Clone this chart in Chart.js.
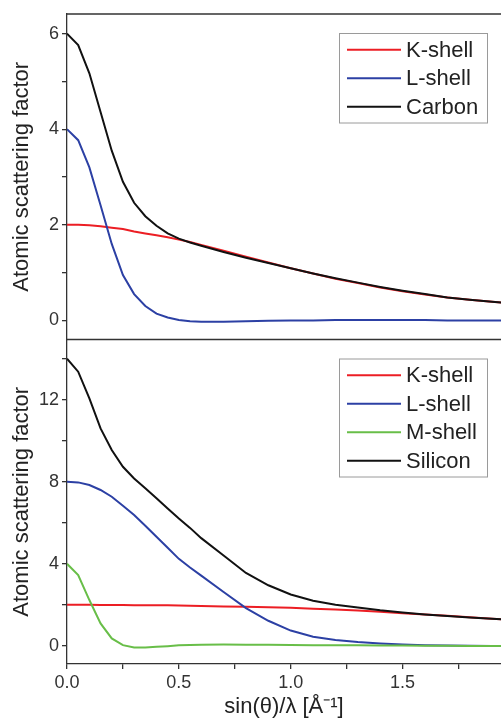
<!DOCTYPE html>
<html>
<head>
<meta charset="utf-8">
<script src="https://cdn.jsdelivr.net/npm/chart.js@4.4.1/dist/chart.umd.min.js"></script>
<style>
    html, body { margin: 0; padding: 0; background: #fff; }
    #wrap { position: relative; width: 501px; height: 721px; overflow: hidden; }
    #top-panel { position: absolute; left: 0; top: 0; }
    #bottom-panel { position: absolute; left: 0; top: 339px; }
</style>
</head>
<body>
<div id="wrap">
    <canvas id="top-panel" width="501" height="340"></canvas>
    <canvas id="bottom-panel" width="501" height="382"></canvas>
</div>
<script>
// sin(theta)/lambda sample positions [1/A]
const sValues = [0, 0.05, 0.1, 0.15, 0.2, 0.25, 0.3, 0.35, 0.4, 0.45, 0.5, 0.55, 0.6,
    0.7, 0.8, 0.9, 1.0, 1.1, 1.2, 1.3, 1.4, 1.5, 1.6, 1.7, 1.8, 1.9, 1.95];

// Carbon (top panel)
const carbonK = [2.00, 2.00, 1.99, 1.97, 1.94, 1.91, 1.86, 1.82, 1.78, 1.74, 1.69, 1.64, 1.58,
    1.46, 1.33, 1.21, 1.09, 0.98, 0.87, 0.78, 0.69, 0.61, 0.54, 0.48, 0.43, 0.39, 0.37];
const carbonL = [4.00, 3.77, 3.20, 2.41, 1.60, 0.95, 0.55, 0.30, 0.14, 0.06, 0.01, -0.02, -0.03,
    -0.03, -0.02, -0.01, 0.00, 0.00, 0.01, 0.01, 0.01, 0.01, 0.01, 0.00, 0.00, 0.00, 0.00];
const carbonTotal = [6.00, 5.76, 5.17, 4.36, 3.55, 2.90, 2.46, 2.18, 1.98, 1.82, 1.71, 1.63, 1.56,
    1.43, 1.31, 1.20, 1.09, 0.98, 0.88, 0.79, 0.70, 0.62, 0.55, 0.48, 0.43, 0.39, 0.37];

// Silicon (bottom panel)
const siliconK = [2.00, 2.00, 2.00, 1.99, 1.99, 1.99, 1.98, 1.98, 1.97, 1.97, 1.96, 1.95, 1.94,
    1.92, 1.90, 1.88, 1.85, 1.81, 1.77, 1.72, 1.66, 1.59, 1.53, 1.46, 1.39, 1.32, 1.29];
const siliconL = [8.00, 7.97, 7.84, 7.60, 7.27, 6.83, 6.38, 5.85, 5.32, 4.78, 4.24, 3.82, 3.42,
    2.62, 1.84, 1.22, 0.74, 0.44, 0.28, 0.18, 0.11, 0.06, 0.03, 0.01, 0.00, -0.01, -0.01];
const siliconM = [4.00, 3.45, 2.23, 1.09, 0.36, 0.03, -0.08, -0.08, -0.05, -0.02, 0.02, 0.04, 0.05,
    0.06, 0.05, 0.05, 0.04, 0.03, 0.02, 0.02, 0.01, 0.01, 0.00, 0.00, -0.01, -0.01, -0.01];
const siliconTotal = [14.00, 13.37, 12.07, 10.60, 9.55, 8.73, 8.16, 7.68, 7.19, 6.70, 6.21, 5.75, 5.25,
    4.40, 3.55, 2.95, 2.50, 2.20, 2.00, 1.87, 1.73, 1.62, 1.53, 1.45, 1.38, 1.32, 1.29];

// tick labels
const xTickLabels = ['0.0', '0.5', '1.0', '1.5'];
const topYTickLabels = [0, 2, 4, 6];
const bottomYTickLabels = [0, 4, 8, 12];

const RED = 'rgb(236, 30, 36)';
const BLUE = 'rgb(44, 64, 164)';
const GREEN = 'rgb(104, 190, 72)';
const BLACK = '#111111';
const AXIS = '#333333';

Chart.defaults.font.family = "'Liberation Sans', Arial, sans-serif";
Chart.defaults.color = AXIS;

function points(ys) {
    return sValues.map((s, i) => ({ x: s, y: ys[i] }));
}

function series(label, ys, color, order) {
    return {
        label: label,
        data: points(ys),
        borderColor: color,
        backgroundColor: color,
        borderWidth: 2,
        pointRadius: 0,
        tension: 0,
        fill: false,
        order: order
    };
}

// drop the label overhang padding so the plot area keeps its size
function noPadding(scale) {
    scale.paddingTop = 0;
    scale.paddingBottom = 0;
    scale.paddingLeft = 0;
    scale.paddingRight = 0;
}

// horizontal frame lines (top / bottom of the plot area)
const frameLines = {
    id: 'frameLines',
    afterDraw(chart, args, opts) {
        const { ctx, chartArea } = chart;
        ctx.save();
        ctx.strokeStyle = AXIS;
        ctx.lineWidth = 1.3;
        ctx.beginPath();
        if (opts.top) {
            ctx.moveTo(chartArea.left, chartArea.top);
            ctx.lineTo(chartArea.right, chartArea.top);
        }
        if (opts.bottom) {
            ctx.moveTo(chartArea.left, chartArea.bottom);
            ctx.lineTo(chartArea.right, chartArea.bottom);
        }
        ctx.stroke();
        ctx.restore();
    }
};

// boxed legend inside the plot, top-right corner
const boxLegend = {
    id: 'boxLegend',
    afterDraw(chart, args, opts) {
        const { ctx, chartArea } = chart;
        const sets = chart.data.datasets;
        const rowH = 28.5;
        const w = 148;
        const h = sets.length * rowH + 4;
        const left = chartArea.right - 14 - w;
        const top = chartArea.top + opts.offsetTop;
        ctx.save();
        ctx.fillStyle = '#fff';
        ctx.fillRect(left, top, w, h);
        ctx.strokeStyle = '#9a9a9a';
        ctx.lineWidth = 1;
        ctx.strokeRect(left + 0.5, top + 0.5, w, h);
        ctx.font = "22px 'Liberation Sans', Arial, sans-serif";
        ctx.textBaseline = 'middle';
        ctx.textAlign = 'left';
        sets.forEach((ds, i) => {
            const y = top + 2.5 + rowH / 2 + i * rowH;
            ctx.strokeStyle = ds.borderColor;
            ctx.lineWidth = 2;
            ctx.beginPath();
            ctx.moveTo(left + 8, y);
            ctx.lineTo(left + 62, y);
            ctx.stroke();
            ctx.fillStyle = '#222';
            ctx.fillText(ds.label, left + 67, y + 1);
        });
        ctx.restore();
    }
};

function yAxis(min, max, step, labels) {
    return {
        min: min,
        max: max,
        afterFit: (scale) => { scale.width = 67; noPadding(scale); },
        border: { color: AXIS, width: 1.3 },
        grid: { drawOnChartArea: false, drawTicks: true, tickLength: 5, color: AXIS, lineWidth: 1.3 },
        ticks: {
            stepSize: step,
            includeBounds: false,
            padding: 3,
            color: AXIS,
            font: { size: 18 },
            callback: (v) => labels.includes(v) ? String(v) : ''
        },
        title: {
            display: true,
            text: 'Atomic scattering factor',
            color: '#222',
            font: { size: 22 },
            padding: { top: 9, bottom: 0 }
        }
    };
}

const topChart = new Chart(document.getElementById('top-panel'), {
    type: 'line',
    data: {
        datasets: [
            series('K-shell', carbonK, RED, 2),
            series('L-shell', carbonL, BLUE, 1),
            series('Carbon', carbonTotal, BLACK, 0)
        ]
    },
    options: {
        responsive: false,
        animation: false,
        layout: { padding: { top: 14, right: 0, bottom: 0.5, left: 0 } },
        plugins: {
            legend: { display: false },
            tooltip: { enabled: false },
            frameLines: { top: true, bottom: true },
            boxLegend: { offsetTop: 19 }
        },
        scales: {
            x: { type: 'linear', min: 0, max: 1.94, display: false },
            y: yAxis(-0.4, 6.41, 1, topYTickLabels)
        }
    },
    plugins: [frameLines, boxLegend]
});

const bottomChart = new Chart(document.getElementById('bottom-panel'), {
    type: 'line',
    data: {
        datasets: [
            series('K-shell', siliconK, RED, 3),
            series('L-shell', siliconL, BLUE, 2),
            series('M-shell', siliconM, GREEN, 1),
            series('Silicon', siliconTotal, BLACK, 0)
        ]
    },
    options: {
        responsive: false,
        animation: false,
        layout: { padding: { top: 0.5, right: 0, bottom: 0, left: 0 } },
        plugins: {
            legend: { display: false },
            tooltip: { enabled: false },
            frameLines: { top: true, bottom: false },
            boxLegend: { offsetTop: 19 }
        },
        scales: {
            x: {
                type: 'linear',
                min: 0,
                max: 1.94,
                afterFit: (scale) => { scale.height = 57; noPadding(scale); },
                border: { color: AXIS, width: 1.3 },
                grid: { drawOnChartArea: false, drawTicks: true, tickLength: 5, color: AXIS, lineWidth: 1.3 },
                ticks: {
                    stepSize: 0.25,
                    includeBounds: false,
                    autoSkip: false,
                    maxRotation: 0,
                    padding: 3,
                    color: AXIS,
                    font: { size: 18 },
                    callback: (v) => {
                        const k = Math.round(v * 2);
                        return Math.abs(v * 2 - k) < 1e-9 && xTickLabels[k] ? xTickLabels[k] : '';
                    }
                },
                title: {
                    display: true,
                    text: 'sin(θ)/λ [Å⁻¹]',
                    color: '#222',
                    font: { size: 22 },
                    padding: { top: 0, bottom: 1 }
                }
            },
            y: yAxis(-0.89, 14.94, 2, bottomYTickLabels)
        }
    },
    plugins: [frameLines, boxLegend]
});
</script>
</body>
</html>
